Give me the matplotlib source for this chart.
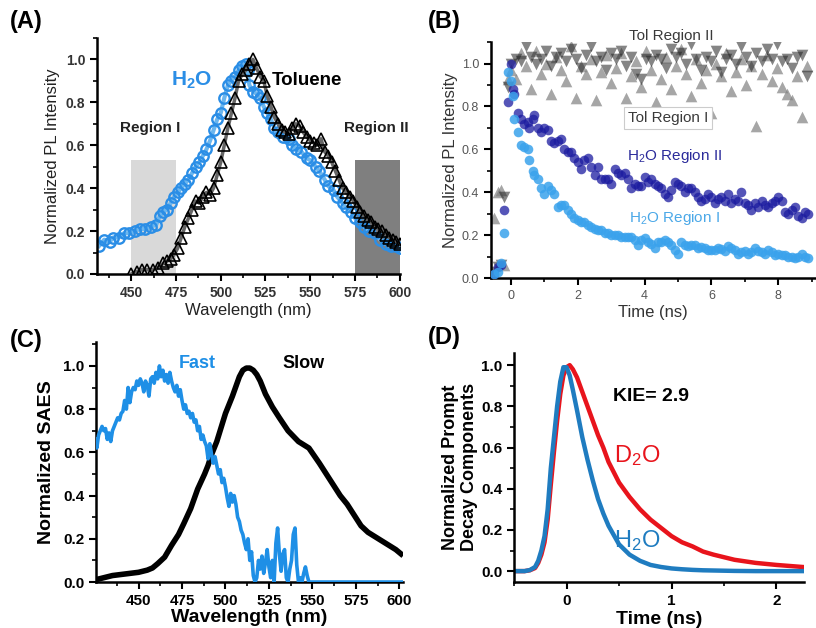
import numpy as np
import matplotlib
matplotlib.use("Agg")
import matplotlib.pyplot as plt
from matplotlib.patches import Rectangle
from matplotlib.ticker import MultipleLocator

plt.rcParams['font.family'] = ['Liberation Sans', 'DejaVu Sans']
plt.rcParams['mathtext.fontset'] = 'custom'
plt.rcParams['mathtext.rm'] = 'Liberation Sans'
plt.rcParams['mathtext.bf'] = 'Liberation Sans:bold'
plt.rcParams['mathtext.default'] = 'regular'

# ---------------- (A) steady-state PL ----------------
wl_h2o = [432, 435, 438, 440, 443, 446, 449, 452, 455, 458, 461, 464, 466, 468, 470,
          472, 474, 476, 478, 480, 482, 484, 486, 488, 490, 492, 494, 496, 498, 500,
          502, 504, 506, 508, 510, 512, 514, 515, 516, 518, 520, 522, 524, 526, 528,
          530, 532, 535, 538, 540, 542, 545, 548, 550, 553, 555, 558, 560, 563, 565,
          568, 570, 573, 575, 578, 580, 583, 586, 589, 592, 595, 598, 600]
pl_h2o = [0.13, 0.16, 0.15, 0.17, 0.17, 0.19, 0.19, 0.20, 0.21, 0.21, 0.22, 0.23, 0.27, 0.29, 0.30,
          0.33, 0.36, 0.38, 0.40, 0.42, 0.44, 0.47, 0.50, 0.52, 0.55, 0.58, 0.62, 0.67, 0.72, 0.75,
          0.82, 0.88, 0.90, 0.92, 0.95, 0.97, 0.98, 0.95, 0.88, 0.85, 0.84, 0.82, 0.78, 0.75, 0.72,
          0.68, 0.66, 0.64, 0.63, 0.60, 0.58, 0.57, 0.54, 0.53, 0.50, 0.48, 0.44, 0.41, 0.39, 0.36,
          0.33, 0.31, 0.29, 0.26, 0.24, 0.22, 0.20, 0.19, 0.16, 0.14, 0.13, 0.13, 0.12]

wl_tol = [450, 453, 456, 459, 462, 465, 468, 470, 472, 474, 476, 478, 480, 482, 484,
          486, 488, 490, 492, 494, 496, 498, 500, 502, 504, 506, 508, 510, 512, 514,
          516, 518, 520, 522, 524, 526, 528, 530, 532, 534, 536, 538, 540, 542, 544,
          546, 548, 550, 552, 554, 556, 558, 560, 562, 564, 566, 568, 570, 572, 574,
          576, 578, 580, 582, 584, 586, 588, 590, 592, 594, 596, 598, 600]
pl_tol = [0.00, 0.01, 0.02, 0.02, 0.02, 0.03, 0.05, 0.06, 0.07, 0.09, 0.12, 0.17, 0.22, 0.26, 0.30,
          0.34, 0.33, 0.36, 0.38, 0.37, 0.40, 0.46, 0.52, 0.60, 0.68, 0.75, 0.82, 0.90, 0.93, 0.95,
          0.98, 1.00, 0.96, 0.92, 0.90, 0.83, 0.78, 0.73, 0.70, 0.67, 0.66, 0.65, 0.68, 0.70, 0.69,
          0.66, 0.64, 0.62, 0.61, 0.60, 0.63, 0.57, 0.55, 0.52, 0.48, 0.44, 0.40, 0.38, 0.36, 0.34,
          0.31, 0.29, 0.27, 0.25, 0.24, 0.22, 0.21, 0.20, 0.18, 0.17, 0.16, 0.15, 0.14]

region1 = (450, 475)
region2 = (575, 600)
region_top = 0.53

# ---------------- (B) time-resolved PL ----------------
t_h2o = [-0.5, -0.4, -0.3, -0.2, -0.1, 0.0, 0.05, 0.1, 0.2, 0.3, 0.4, 0.5, 0.55, 0.65, 0.7,
         0.8, 0.9, 1.0, 1.1, 1.2, 1.3, 1.4, 1.5, 1.6, 1.7, 1.8, 1.9, 2.0, 2.1, 2.2,
         2.3, 2.4, 2.5, 2.6, 2.7, 2.8, 2.9, 3.0, 3.1, 3.2, 3.3, 3.4, 3.5, 3.6, 3.7,
         3.8, 3.9, 4.0, 4.1, 4.2, 4.3, 4.4, 4.5, 4.6, 4.7, 4.8, 4.9, 5.0, 5.1, 5.2,
         5.3, 5.4, 5.5, 5.6, 5.7, 5.8, 5.9, 6.0, 6.1, 6.2, 6.3, 6.4, 6.5, 6.6, 6.7,
         6.8, 6.9, 7.0, 7.1, 7.2, 7.3, 7.4, 7.5, 7.6, 7.7, 7.8, 7.9, 8.0, 8.1, 8.2,
         8.3, 8.4, 8.5, 8.6, 8.7, 8.8, 8.9]
h2o_reg2 = [0.02, 0.05, 0.06, 0.32, 0.82, 1.00, 0.88, 0.86, 0.77, 0.74, 0.72, 0.73, 0.70, 0.74, 0.76,
            0.70, 0.68, 0.70, 0.69, 0.64, 0.63, 0.64, 0.65, 0.60, 0.59, 0.59, 0.56, 0.54, 0.51, 0.55,
            0.56, 0.52, 0.48, 0.52, 0.46, 0.46, 0.46, 0.44, 0.51, 0.49, 0.48, 0.49, 0.46, 0.42, 0.44,
            0.43, 0.43, 0.47, 0.45, 0.46, 0.44, 0.43, 0.42, 0.39, 0.38, 0.41, 0.45, 0.44, 0.43, 0.40,
            0.42, 0.42, 0.40, 0.38, 0.36, 0.37, 0.39, 0.38, 0.35, 0.37, 0.38, 0.36, 0.39, 0.35, 0.37,
            0.36, 0.40, 0.35, 0.34, 0.32, 0.35, 0.33, 0.36, 0.34, 0.33, 0.35, 0.36, 0.38, 0.36, 0.31,
            0.30, 0.32, 0.33, 0.29, 0.28, 0.31, 0.30]
h2o_reg1 = [0.02, 0.03, 0.07, 0.21, 0.96, 0.92, 0.85, 0.74, 0.68, 0.62, 0.61, 0.60, 0.55, 0.50, 0.48,
            0.46, 0.42, 0.39, 0.43, 0.41, 0.39, 0.33, 0.34, 0.34, 0.32, 0.30, 0.28, 0.27, 0.26, 0.26,
            0.25, 0.24, 0.23, 0.225, 0.225, 0.21, 0.21, 0.20, 0.20, 0.20, 0.19, 0.19, 0.19, 0.19, 0.18,
            0.155, 0.18, 0.185, 0.17, 0.16, 0.14, 0.17, 0.17, 0.18, 0.17, 0.155, 0.13, 0.115, 0.17, 0.155,
            0.15, 0.155, 0.155, 0.14, 0.145, 0.14, 0.13, 0.13, 0.13, 0.14, 0.135, 0.125, 0.15, 0.14, 0.13,
            0.115, 0.12, 0.125, 0.115, 0.12, 0.14, 0.125, 0.12, 0.115, 0.13, 0.12, 0.11, 0.115, 0.11, 0.11,
            0.10, 0.10, 0.095, 0.10, 0.115, 0.10, 0.095]

t_tol = [-0.5, -0.4, -0.3, -0.2, -0.1,
         0.0, 0.15, 0.3, 0.45, 0.6, 0.75, 0.9, 1.05, 1.2, 1.35, 1.5, 1.65, 1.8, 1.95, 2.1,
         2.25, 2.4, 2.55, 2.7, 2.85, 3.0, 3.15, 3.3, 3.45, 3.6, 3.75, 3.9, 4.05, 4.2, 4.35,
         4.5, 4.65, 4.8, 4.95, 5.1, 5.25, 5.4, 5.55, 5.7, 5.85, 6.0, 6.15, 6.3, 6.45, 6.6,
         6.75, 6.9, 7.05, 7.2, 7.35, 7.5, 7.65, 7.8, 7.95, 8.1, 8.25, 8.4, 8.55, 8.7, 8.85]
tol_reg2 = [0.03, 0.05, 0.06, 0.38, 0.89,
            1.00, 1.02, 1.01, 1.08, 1.03, 1.00, 1.02, 1.06, 0.99, 1.03, 1.05, 1.01, 1.07, 1.02, 0.98,
            1.04, 1.08, 1.01, 1.03, 0.97, 1.05, 1.02, 1.06, 0.99, 1.03, 0.95, 0.93, 1.02, 1.01, 1.04,
            1.02, 0.98, 1.07, 1.03, 1.05, 1.00, 1.09, 1.02, 0.97, 1.03, 1.01, 1.06, 0.96, 1.02, 1.04,
            1.00, 1.08, 1.03, 0.99, 1.05, 1.01, 1.07, 1.02, 1.09, 1.01, 1.02, 0.98, 1.03, 1.04, 0.94]
tol_reg1 = [0.28, 0.40, 0.41, 0.06, 0.93,
            0.97, 0.93, 1.05, 0.99, 0.88, 1.06, 0.95, 1.00, 0.86, 1.03, 0.97, 0.92, 1.08, 0.84, 0.99,
            0.95, 1.02, 0.83, 0.96, 1.04, 0.91, 0.98, 1.05, 0.84, 0.94, 1.01, 0.89, 1.06, 0.97, 0.82,
            0.93, 1.03, 0.88, 0.99, 1.07, 0.95, 0.85, 1.02, 0.91, 0.97, 0.77, 1.00, 0.94, 1.05, 0.87,
            0.96, 1.02, 0.90, 0.99, 0.71, 0.95, 1.04, 0.92, 0.98, 0.89, 0.86, 0.83, 0.94, 0.75, 0.99]

# ---------------- (C) SAES ----------------
wl_fast = list(range(425, 551)) + [560, 570, 580, 590, 600, 602]
saes_fast = [0.66, 0.62, 0.68, 0.70, 0.72, 0.70, 0.71, 0.66, 0.69, 0.65,
             0.70, 0.72, 0.74, 0.76, 0.75, 0.78, 0.79, 0.84, 0.80, 0.90,
             0.83, 0.88, 0.90, 0.89, 0.93, 0.91, 0.94, 0.92, 0.88, 0.93,
             0.91, 0.86, 0.94, 0.95, 0.92, 0.97, 0.94, 1.00, 0.95, 0.98,
             0.93, 0.96, 0.92, 0.97, 0.93, 0.90, 0.88, 0.91, 0.86, 0.89,
             0.84, 0.80, 0.82, 0.78, 0.79, 0.76, 0.78, 0.74, 0.75, 0.70,
             0.72, 0.66, 0.68, 0.65, 0.63, 0.57, 0.64, 0.59, 0.55, 0.58,
             0.54, 0.50, 0.52, 0.46, 0.48, 0.44, 0.39, 0.35, 0.41, 0.37,
             0.40, 0.36, 0.30, 0.28, 0.24, 0.22, 0.18, 0.15, 0.20, 0.10,
             0.14, 0.03, 0.00, 0.02, 0.10, 0.06, 0.12, 0.04, 0.09, 0.15,
             0.07, 0.02, 0.10, 0.00, 0.18, 0.25, 0.13, 0.05, 0.13, 0.15,
             0.02, 0.00, 0.06, 0.10, 0.22, 0.25, 0.08, 0.00, 0.02, 0.00,
             0.04, 0.07, 0.03, 0.00, 0.00, 0.00,
             0.00, 0.00, 0.00, 0.00, 0.00, 0.00]

wl_slow = [425, 430, 435, 440, 445, 450, 455, 458, 461, 465, 469, 473, 476, 480, 484,
           488, 490, 492, 495, 500, 504, 508, 510, 512, 514, 516, 518, 520, 523, 527,
           531, 536, 542, 548, 554, 558, 562, 566, 570, 574, 578, 582, 586, 590, 594,
           598, 601]
saes_slow = [0.01, 0.02, 0.03, 0.035, 0.04, 0.045, 0.055, 0.065, 0.085, 0.115, 0.17, 0.22, 0.27, 0.34, 0.43,
             0.50, 0.54, 0.59, 0.65, 0.78, 0.86, 0.95, 0.98, 0.99, 0.99, 0.98, 0.96, 0.93, 0.87, 0.81,
             0.76, 0.70, 0.65, 0.62, 0.55, 0.50, 0.45, 0.40, 0.36, 0.31, 0.26, 0.23, 0.21, 0.19, 0.17,
             0.15, 0.13]

# ---------------- (D) prompt components ----------------
t_prompt = [-0.5, -0.4, -0.35, -0.3, -0.27, -0.24, -0.21, -0.18, -0.15, -0.12, -0.09, -0.06,
            -0.03, 0.0, 0.03, 0.06, 0.1, 0.15, 0.2, 0.25, 0.3, 0.35, 0.4, 0.5, 0.6, 0.7,
            0.8, 0.9, 1.0, 1.1, 1.2, 1.3, 1.4, 1.6, 1.8, 2.0, 2.25]
prompt_h2o = [0.0, 0.0, 0.005, 0.02, 0.05, 0.10, 0.17, 0.30, 0.50, 0.65, 0.80, 0.92,
              0.99, 0.99, 0.95, 0.88, 0.78, 0.65, 0.54, 0.44, 0.35, 0.28, 0.22, 0.13, 0.08, 0.05,
              0.03, 0.02, 0.013, 0.009, 0.006, 0.004, 0.003, 0.001, 0.0, 0.0, 0.0]
prompt_d2o = [0.0, 0.0, 0.004, 0.015, 0.04, 0.08, 0.14, 0.25, 0.42, 0.58, 0.73, 0.86,
              0.95, 0.99, 1.00, 0.98, 0.94, 0.87, 0.80, 0.73, 0.66, 0.60, 0.53, 0.43, 0.36, 0.30,
              0.25, 0.21, 0.17, 0.14, 0.12, 0.095, 0.08, 0.055, 0.04, 0.03, 0.02]

fig = plt.figure(figsize=(8.16, 6.28), dpi=100)


def style_axes(ax, color, size, weight):
    for s in ['top', 'right']:
        ax.spines[s].set_visible(False)
    for s in ['left', 'bottom']:
        ax.spines[s].set_linewidth(1.8)
        ax.spines[s].set_color('black')
    ax.tick_params(which='major', direction='out', length=5, width=1.5,
                   labelsize=size, labelcolor=color)
    ax.tick_params(which='minor', direction='out', length=3, width=1.2)
    for lab in ax.get_xticklabels() + ax.get_yticklabels():
        lab.set_fontweight(weight)


# (A)
axA = fig.add_axes([0.119, 0.5637, 0.371, 0.376])
axA.add_patch(Rectangle((region1[0], 0), region1[1] - region1[0], region_top,
                        color='#d9d9d9', lw=0, zorder=0))
axA.add_patch(Rectangle((region2[0], 0), region2[1] - region2[0], region_top,
                        color='#7f7f7f', lw=0, zorder=0))
axA.plot(wl_h2o, pl_h2o, color='#6cb6ee', lw=3, zorder=1)
axA.plot(wl_h2o, pl_h2o, 'o', mfc='none', mec='#2b8ee6', mew=1.7, ms=7.5, zorder=2)
axA.plot(wl_tol, pl_tol, color='#666666', lw=2.5, zorder=3)
axA.plot(wl_tol, pl_tol, '^', mfc='none', mec='black', mew=1.2, ms=8, zorder=4)
axA.set_xlim(431, 600)
axA.set_ylim(0, 1.1)
axA.xaxis.set_major_locator(MultipleLocator(25))
axA.xaxis.set_minor_locator(MultipleLocator(12.5))
axA.yaxis.set_major_locator(MultipleLocator(0.2))
axA.yaxis.set_minor_locator(MultipleLocator(0.1))
axA.set_xlabel('Wavelength (nm)', fontsize=12, color='#222222', labelpad=2)
axA.set_ylabel('Normalized PL Intensity', fontsize=12, color='#222222', labelpad=4)
style_axes(axA, '#333333', 10, 'bold')
axA.text(484, 0.90, r'$\mathbf{H_2O}$', color='#2b8ee6', fontsize=15, ha='center', va='center')
axA.text(548, 0.90, 'Toluene', color='black', fontsize=13.5, fontweight='bold', ha='center', va='center')
axA.text(460.5, 0.68, 'Region I', color='#222222', fontsize=11, fontweight='bold', ha='center', va='center')
axA.text(587, 0.68, 'Region II', color='#222222', fontsize=11, fontweight='bold', ha='center',
         va='center', clip_on=False)

# (B)
axB = fig.add_axes([0.6017, 0.557, 0.397, 0.376])
axB.scatter(t_tol, tol_reg1, marker='^', s=70, color='#808080', alpha=0.7, lw=0, zorder=1)
axB.scatter(t_tol, tol_reg2, marker='v', s=70, color='#222222', alpha=0.55, lw=0, zorder=2)
axB.scatter(t_h2o, h2o_reg2, marker='o', s=48, color='#1c1ca0', alpha=0.75, lw=0, zorder=3)
axB.scatter(t_h2o, h2o_reg1, marker='o', s=48, color='#3aa2ec', alpha=0.85, lw=0, zorder=4)
axB.set_xlim(-0.6, 9.1)
axB.set_ylim(0, 1.1)
axB.xaxis.set_major_locator(MultipleLocator(2))
axB.xaxis.set_minor_locator(MultipleLocator(1))
axB.yaxis.set_major_locator(MultipleLocator(0.2))
axB.yaxis.set_minor_locator(MultipleLocator(0.1))
axB.set_xlabel('Time (ns)', fontsize=12, color='#333333', labelpad=2)
axB.set_ylabel('Normalized PL Intensity', fontsize=12, color='#333333', labelpad=3)
style_axes(axB, '#555555', 9, 'normal')
axB.text(4.8, 1.13, 'Tol Region II', color='#3a3a3a', fontsize=11, ha='center', va='center', clip_on=False)
axB.text(4.7, 0.745, 'Tol Region I', color='#3a3a3a', fontsize=11, ha='center', va='center',
         bbox=dict(boxstyle='square,pad=0.25', fc='white', ec='#cccccc', lw=0.8))
axB.text(4.9, 0.57, r'H$_2$O Region II', color='#2a2a9a', fontsize=11, ha='center', va='center')
axB.text(4.9, 0.28, r'H$_2$O Region I', color='#4aa8e8', fontsize=11, ha='center', va='center')

# (C)
axC = fig.add_axes([0.1176, 0.0732, 0.376, 0.382])
axC.plot(wl_slow, saes_slow, color='black', lw=4, zorder=2)
axC.plot(wl_fast, saes_fast, color='#1e8fe6', lw=2.6, zorder=3)
axC.set_xlim(425.5, 602)
axC.set_ylim(0, 1.11)
axC.xaxis.set_major_locator(MultipleLocator(25))
axC.xaxis.set_minor_locator(MultipleLocator(12.5))
axC.yaxis.set_major_locator(MultipleLocator(0.2))
axC.yaxis.set_minor_locator(MultipleLocator(0.1))
axC.set_xlabel('Wavelength (nm)', fontsize=14, fontweight='bold', labelpad=1)
axC.set_ylabel('Normalized SAES', fontsize=14, fontweight='bold', labelpad=6)
style_axes(axC, 'black', 11, 'bold')
axC.text(484, 1.01, 'Fast', color='#1e8fe6', fontsize=13, fontweight='bold', ha='center', va='center')
axC.text(545, 1.01, 'Slow', color='black', fontsize=13, fontweight='bold', ha='center', va='center')

# (D)
axD = fig.add_axes([0.63, 0.0732, 0.355, 0.365])
axD.plot(t_prompt, prompt_d2o, color='#e8141c', lw=3.2)
axD.plot(t_prompt, prompt_h2o, color='#1f7cc0', lw=3.2)
axD.set_xlim(-0.5, 2.26)
axD.set_ylim(-0.053, 1.06)
axD.xaxis.set_major_locator(MultipleLocator(1))
axD.xaxis.set_minor_locator(MultipleLocator(0.5))
axD.yaxis.set_major_locator(MultipleLocator(0.2))
axD.yaxis.set_minor_locator(MultipleLocator(0.1))
axD.set_xlabel('Time (ns)', fontsize=14, fontweight='bold', labelpad=2)
axD.set_ylabel('Normalized Prompt\nDecay Components', fontsize=13, fontweight='bold', labelpad=2)
style_axes(axD, 'black', 11, 'bold')
axD.text(0.44, 0.85, 'KIE= 2.9', fontsize=14, fontweight='bold', ha='left', va='center')
axD.text(0.45, 0.56, r'D$_2$O', color='#e8141c', fontsize=17, ha='left', va='center')
axD.text(0.45, 0.15, r'H$_2$O', color='#1f7cc0', fontsize=17, ha='left', va='center')

# panel letters
fig.text(0.012, 0.965, '(A)', fontsize=17, fontweight='bold', va='center')
fig.text(0.524, 0.965, '(B)', fontsize=17, fontweight='bold', va='center')
fig.text(0.012, 0.458, '(C)', fontsize=17, fontweight='bold', va='center')
fig.text(0.524, 0.462, '(D)', fontsize=17, fontweight='bold', va='center')

fig.savefig('out.png', dpi=100)
